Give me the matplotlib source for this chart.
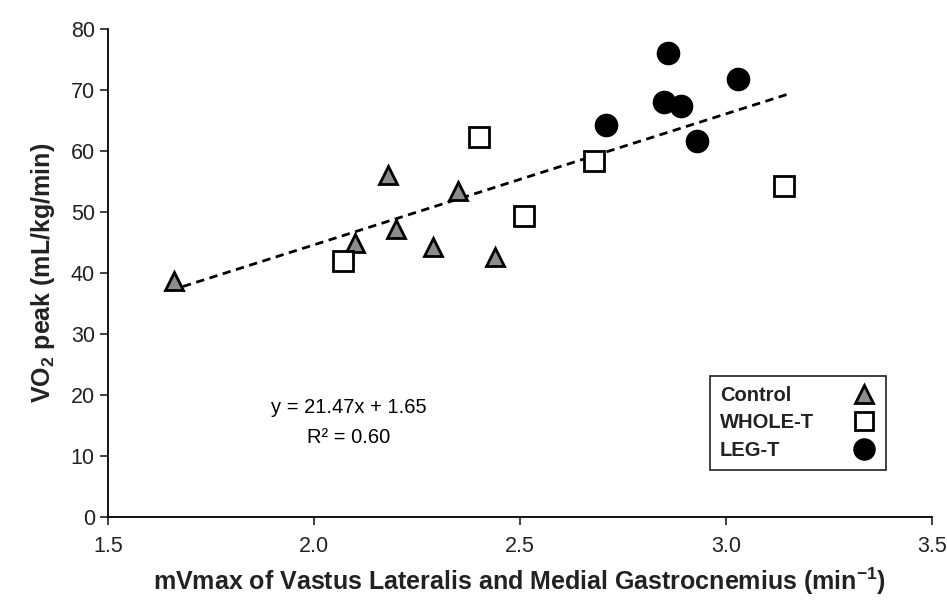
import numpy as np
import matplotlib.pyplot as plt

plt.rcParams['font.family'] = ['Liberation Sans', 'DejaVu Sans']
plt.rcParams['mathtext.fontset'] = 'custom'
plt.rcParams['mathtext.rm'] = 'Liberation Sans'
plt.rcParams['mathtext.bf'] = 'Liberation Sans:bold'

# Control group
ctrl_x = [1.66, 2.10, 2.18, 2.20, 2.29, 2.35, 2.44]
ctrl_y = [38.7, 44.9, 56.1, 47.2, 44.2, 53.4, 42.6]
# WHOLE-T group
whole_x = [2.07, 2.40, 2.51, 2.68, 3.14]
whole_y = [42.0, 62.2, 49.3, 58.4, 54.3]
# LEG-T group
leg_x = [2.71, 2.86, 2.85, 2.89, 2.93, 3.03]
leg_y = [64.3, 76.0, 68.0, 67.3, 61.6, 71.7]

slope, intercept = 21.47, 1.65
fit_x = np.array([1.65, 3.15])

fig = plt.figure(figsize=(9.47, 6.01), dpi=100)
ax = fig.add_axes([0.114, 0.14, 0.870, 0.812])

ax.plot(fit_x, slope * fit_x + intercept, color='black', ls=(0, (3, 2)), lw=2, zorder=1)

ax.plot(ctrl_x, ctrl_y, ls='none', marker='^', ms=13, mfc='#8c8c8c', mec='black',
        mew=2, label='Control', zorder=3)
ax.plot(whole_x, whole_y, ls='none', marker='s', ms=14, mfc='white', mec='black',
        mew=2, label='WHOLE-T', zorder=3)
ax.plot(leg_x, leg_y, ls='none', marker='o', ms=16, mfc='black', mec='black',
        label='LEG-T', zorder=3)

ax.text(2.085, 17.9, 'y = 21.47x + 1.65', ha='center', va='center', fontsize=14.5)
ax.text(2.085, 13.0, 'R² = 0.60', ha='center', va='center', fontsize=14.5)

ax.set_xlim(1.5, 3.5)
ax.set_ylim(0, 80)
ax.set_xticks(np.arange(1.5, 3.51, 0.5))
ax.set_xticklabels(['1.5', '2.0', '2.5', '3.0', '3.5'])
ax.set_yticks(np.arange(0, 81, 10))
ax.tick_params(labelsize=15.5, direction='out', length=6, width=1.2, colors='#222222')
ax.tick_params(axis='x', pad=8)
for s in ['top', 'right']:
    ax.spines[s].set_visible(False)
for s in ['left', 'bottom']:
    ax.spines[s].set_linewidth(1.3)

ax.set_xlabel('mVmax of Vastus Lateralis and Medial Gastrocnemius (min$^{\\mathbf{-1}}$)',
              fontsize=18, fontweight='bold', labelpad=6, color='#222222')
ax.set_ylabel('VO$_{\\mathbf{2}}$ peak (mL/kg/min)', fontsize=18, fontweight='bold',
              labelpad=10, color='#222222')

leg = ax.legend(loc='lower right', bbox_to_anchor=(0.944, 0.096), borderaxespad=0,
                markerfirst=False, frameon=True, fancybox=False, edgecolor='black',
                prop={'weight': 'bold', 'size': 14.5}, handlelength=1.2,
                handletextpad=2.2, labelspacing=0.42, borderpad=0.5, markerscale=0.95)
leg.get_frame().set_linewidth(1.3)
# labels flush left, markers flush right: stretch every row to the same width
for col in leg._legend_handle_box.get_children():
    for row in col.get_children():
        row.mode = 'expand'
        row.width = 156
for t in leg.get_texts():
    t.set_color('#222222')

fig.savefig('out.png', dpi=100)
